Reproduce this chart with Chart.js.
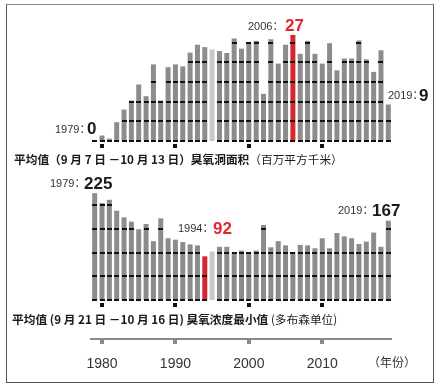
<!DOCTYPE html>
<html>
<head>
<meta charset="utf-8">
<script src="https://cdn.jsdelivr.net/npm/chart.js@4"></script>
<style>
  html, body { margin: 0; padding: 0; background: #fff; }
  #page { position: relative; width: 441px; height: 384px; overflow: hidden; font-family: "Liberation Sans", "Noto Sans CJK SC", sans-serif; }
  #frame { position: absolute; left: 6px; top: 4px; width: 428px; height: 379px; box-sizing: border-box; border: 1px solid #555; border-top-color: #8a8a8a; }
  canvas { position: absolute; left: 0; }
  #areaChart { top: 0; }
  #ozoneChart { top: 170px; }
  .t { position: absolute; white-space: nowrap; line-height: 1; }
  .yr { font-size: 11px; color: #333; }
  .big { font-size: 17px; font-weight: bold; color: #1a1a1a; }
  .red { color: #e0262f; }
  .title { font-family: "Noto Sans CJK SC", sans-serif; font-size: 11.7px; color: #1a1a1a; }
  .title b { font-weight: bold; }
  .title span { font-weight: normal; }
</style>
</head>
<body>
<div id="page">
  <div id="frame"></div>
  <canvas id="areaChart" width="441" height="150"></canvas>
  <canvas id="ozoneChart" width="441" height="214"></canvas>

  <div class="t yr" style="left:55px; top:124px;">1979：</div>
  <div class="t big" style="left:87px; top:120px;">0</div>
  <div class="t yr" style="left:248px; top:21px;">2006：</div>
  <div class="t big red" style="left:285px; top:17px;">27</div>
  <div class="t yr" style="left:388px; top:90px;">2019：</div>
  <div class="t big" style="left:419px; top:87px;">9</div>
  <div class="t title" style="left:14px; top:153px;"><b>平均值（9 月 7 日 －10 月 13 日）臭氧洞面积</b><span>（百万平方千米）</span></div>

  <div class="t yr" style="left:50px; top:178px;">1979：</div>
  <div class="t big" style="left:84px; top:175px;">225</div>
  <div class="t yr" style="left:178px; top:223px;">1994：</div>
  <div class="t big red" style="left:213px; top:220px;">92</div>
  <div class="t yr" style="left:338px; top:205px;">2019：</div>
  <div class="t big" style="left:372px; top:202px;">167</div>
  <div class="t title" style="left:12px; top:313px;"><b>平均值 (9 月 21 日 －10 月 16 日) 臭氧浓度最小值</b><span> (多布森单位)</span></div>

  <div class="t title" style="left:368px; top:356px; font-size:12px; color:#333;">（年份）</div>
</div>

<script>
const years = [];
for (let y = 1979; y <= 2019; y++) years.push(String(y));

// ozone hole area, million km2
const holeArea = [
  0, 1.4, 0.6, 4.8, 8.0, 10.3, 14.4, 11.4, 19.5, 10.3,
  18.8, 19.5, 19.0, 22.5, 24.5, 23.9, 23.3, 22.9, 22.4, 26.1,
  23.5, 25.0, 25.5, 12.0, 25.9, 19.7, 24.5, 27, 22.2, 25.5,
  22.2, 19.7, 24.9, 18.0, 21.0, 21.0, 25.6, 20.8, 17.6, 23.1,
  9.3,
];

// minimum ozone, Dobson units
const minOzone = [
  225, 204, 211, 188, 174, 165, 149, 160, 124, 172,
  130, 127, 122, 117, 115, 92, 102, 112, 112, 100,
  104, 100, 104, 158, 111, 124, 115, 101, 116, 115,
  109, 130, 109, 141, 134, 130, 118, 123, 142, 112,
  167,
];

const areaGrid = [0, 5, 10, 15, 20, 25];
const ozoneGrid = [0, 50, 100, 150, 200];
const decadeLabels = ['1980', '1990', '2000', '2010'];
const missingYears = ['1995'];

const barGray = '#8c8c8c';
const barLight = '#c9c9c9';
const barRed = '#d8262e';

const colorsFor = (highlight) => years.map((yr) => {
  if (yr === highlight) return barRed;
  if (missingYears.includes(yr)) return barLight;
  return barGray;
});

// black dashes on each bar at grid levels, plus the decade squares under the baseline
const marksPlugin = {
  id: 'marks',
  afterDatasetsDraw(chart, args, opts) {
    const { ctx } = chart;
    const yScale = chart.scales.y;
    const meta = chart.getDatasetMeta(0);
    const values = chart.data.datasets[0].data;
    ctx.save();
    ctx.fillStyle = '#111';
    meta.data.forEach((bar, i) => {
      if (missingYears.includes(years[i])) return;
      const w = Math.round(bar.width);
      opts.grid.forEach((g) => {
        if (values[i] >= g) {
          const py = Math.round(yScale.getPixelForValue(g));
          ctx.fillRect(Math.round(bar.x - w / 2), py - 1, w, 2);
        }
      });
    });
    const base = Math.round(yScale.getPixelForValue(0));
    decadeLabels.forEach((yr) => {
      const bar = meta.data[years.indexOf(yr)];
      ctx.fillRect(Math.round(bar.x - 2), base + 3, 4, 4);
    });
    ctx.restore();
  },
};

Chart.defaults.font.family = '"Liberation Sans", "Noto Sans CJK SC", sans-serif';

new Chart(document.querySelector('#areaChart'), {
  type: 'bar',
  data: {
    labels: years,
    datasets: [{
      data: holeArea,
      backgroundColor: colorsFor('2006'),
      barPercentage: 0.68,
      categoryPercentage: 1,
    }],
  },
  options: {
    responsive: false,
    animation: false,
    devicePixelRatio: 1,
    layout: { padding: { left: 91, right: 49, top: 31, bottom: 9 } },
    plugins: {
      legend: { display: false },
      tooltip: { enabled: false },
      marks: { grid: areaGrid },
    },
    scales: {
      x: { display: false },
      y: { display: false, min: 0, max: 28 },
    },
  },
  plugins: [marksPlugin],
});

new Chart(document.querySelector('#ozoneChart'), {
  type: 'bar',
  data: {
    labels: years,
    datasets: [{
      data: minOzone,
      backgroundColor: colorsFor('1994'),
      barPercentage: 0.68,
      categoryPercentage: 1,
    }],
  },
  options: {
    responsive: false,
    animation: false,
    devicePixelRatio: 1,
    layout: { padding: { left: 91, right: 49, top: 16, bottom: 5 } },
    plugins: {
      legend: { display: false },
      tooltip: { enabled: false },
      marks: { grid: ozoneGrid },
    },
    scales: {
      x: {
        afterFit: (scale) => { scale.height = 40; },
        border: { display: true, color: '#8a8a8a', width: 2 },
        grid: {
          offset: false,
          drawOnChartArea: false,
          tickLength: 5,
          color: '#8a8a8a',
          tickColor: '#8a8a8a',
          lineWidth: (c) => (decadeLabels.includes(years[c.index]) ? 4 : 0),
          tickWidth: (c) => (decadeLabels.includes(years[c.index]) ? 4 : 0),
        },
        ticks: {
          autoSkip: false,
          maxRotation: 0,
          padding: 12,
          color: '#333',
          font: { size: 14 },
          callback: (v, i) => (decadeLabels.includes(years[i]) ? years[i] : ''),
        },
      },
      y: { display: false, min: -82, max: 240 },
    },
  },
  plugins: [marksPlugin],
});
</script>
</body>
</html>
